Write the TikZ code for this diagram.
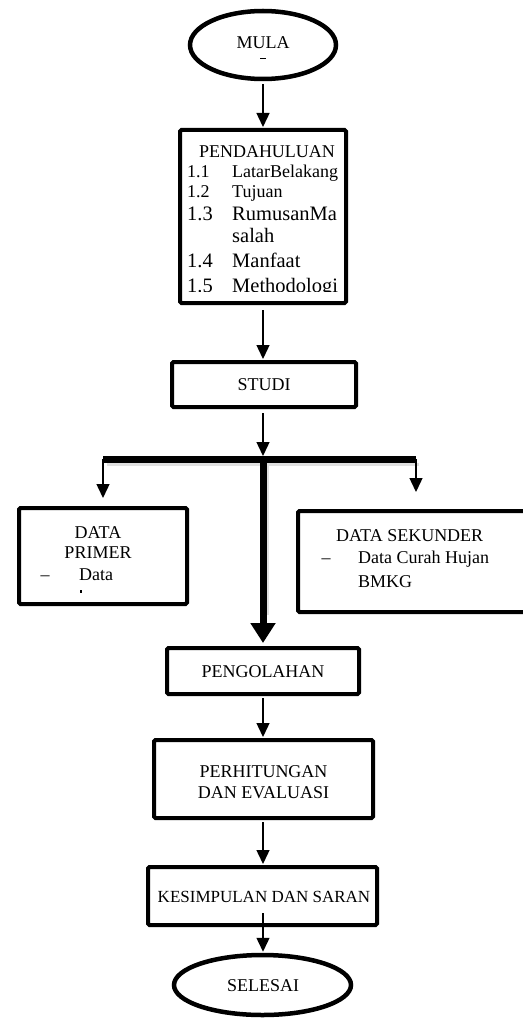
\documentclass[tikz,border=0pt]{standalone}
\usepackage{fontspec}
\setmainfont{Liberation Serif}
\usetikzlibrary{shapes.geometric,arrows.meta}
\begin{document}
\begin{tikzpicture}[x=1pt,y=-1pt,
  box/.style={draw, line width=4pt, rounded corners=1.5pt, inner sep=0pt},
  oval/.style={draw, ellipse, line width=4.5pt, inner sep=0pt},
  txt/.style={font=\fontsize{18}{21}\selectfont, inner sep=0pt, anchor=base},
  txtl/.style={font=\fontsize{18}{21}\selectfont, inner sep=0pt, anchor=base west},
  big/.style={font=\fontsize{20.5}{24}\selectfont, inner sep=0pt, anchor=base west},
  arr/.style={line width=1.4pt, -{Triangle[width=13pt,length=14pt]}},
  thickarr/.style={line width=7pt, -{Triangle[width=24pt,length=20pt]}},
  shade/.style={black!12, line width=3pt},
]
\useasboundingbox (0,0) rectangle (522,1019);

% shapes
\node[oval, minimum width=146, minimum height=68] (mula) at (263,45) {};
\node[txt] (mulat) at (263,49) {MULA};
\draw[line width=0.6pt] (260,58) -- (266,58);

\node[box, minimum width=166, minimum height=173] (pend) at (263,216.5) {};
\begin{scope}
\clip (182,132) rectangle (344,291);
\node[txt] (p0) at (267,158) {PENDAHULUAN};
\node[txtl] (p11) at (187,178) {1.1};
\node[txtl] (p11t) at (232,178) {LatarBelakang};
\node[txtl] (p12) at (187,197) {1.2};
\node[txtl] (p12t) at (232,197) {Tujuan};
\node[big] (p13) at (187,220) {1.3};
\node[big] (p13t) at (232,220) {RumusanMa};
\node[big] (p13u) at (232,242) {salah};
\node[big] (p14) at (187,267) {1.4};
\node[big] (p14t) at (232,267) {Manfaat};
\node[big] (p15) at (187,292) {1.5};
\node[big] (p15t) at (232,292) {Methodologi};
\end{scope}

\node[box, minimum width=184, minimum height=45] (studi) at (264,384.5) {};
\node[txt] (studit) at (264,390) {STUDI};

\node[box, minimum width=168, minimum height=96] (primer) at (103,556) {};
\node[txt] (pr1) at (98,538) {DATA};
\node[txt] (pr2) at (98,558) {PRIMER};
\node[txt] (pr3) at (45,580) {--};
\node[txtl] (pr4) at (79,580) {Data};
\fill (80.3,590) rectangle (82,593);

\node[box, minimum width=242, minimum height=101] (sek) at (419,561.5) {};
\node[txtl] (s1) at (336,541) {DATA SEKUNDER};
\node[txt] (s2) at (326,563) {--};
\node[txtl] (s3) at (358,563) {Data Curah Hujan};
\node[txtl] (s4) at (358,587) {BMKG};

\node[box, minimum width=192, minimum height=46] (olah) at (263,671) {};
\node[txt] (olaht) at (263,677) {PENGOLAHAN};

\node[box, minimum width=219, minimum height=78] (hitung) at (263.5,779) {};
\node[txt] (h1) at (263.5,777) {PERHITUNGAN};
\node[txt] (h2) at (263.5,798) {DAN EVALUASI};

\node[box, minimum width=229, minimum height=58] (simpul) at (262.5,896) {};
\node[txt, font=\fontsize{17}{20}\selectfont] (simpult) at (264,902) {KESIMPULAN DAN SARAN};

\node[oval, minimum width=177, minimum height=60] (selesai) at (262.5,985) {};
\node[txt] (selesait) at (263,991) {SELESAI};

% connectors
\draw[arr, shorten <=3pt, shorten >=1pt] (mula.south) -- (mula.south |- pend.north);
\draw[arr, shorten <=5pt, shorten >=1pt] (pend.south -| mula.south) -- (mula.south |- studi.north);
\coordinate (bl) at (103,459);
\coordinate (br) at (416,459);
\coordinate (bc) at (263,459);
\draw[arr, shorten <=4pt, shorten >=3pt] (studi.south -| bc) -- (bc);
\draw[shade] (107,464.5) -- (419,464.5);
\draw[shade] (267.5,463) -- (267.5,615);
\draw[line width=7pt] (bl) -- (br);
\draw[arr, shorten >=8pt] (bl) -- (bl |- primer.north);
\draw[arr, shorten >=17pt] (br) -- (br |- sek.north);
\draw[thickarr, shorten >=3pt] (bc) -- (olah.north);
\draw[arr, shorten <=2pt, shorten >=1pt] (olah.south) -- (olah.south |- hitung.north);
\draw[arr, shorten <=2pt, shorten >=1pt] (hitung.south -| olah.south) -- (olah.south |- simpul.north);
\coordinate (ks) at (263,913);
\draw[arr, shorten >=1pt] (ks) -- (ks |- selesai.north);
\end{tikzpicture}
\end{document}
